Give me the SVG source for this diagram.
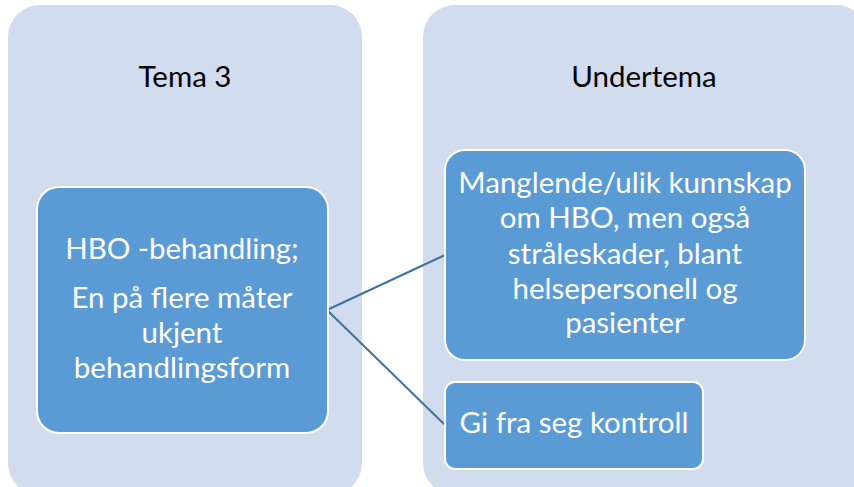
<svg xmlns="http://www.w3.org/2000/svg" width="854" height="487" viewBox="0 0 854 487">
  <style>
    .panel { fill: #d1ddee; }
    .node { fill: #5b9bd5; stroke: #ffffff; stroke-width: 2; }
    .head { font-family: Lato, "Liberation Sans", sans-serif; font-size: 29.5px; fill: #000000; text-anchor: middle; }
    .label { font-family: Lato, "Liberation Sans", sans-serif; font-size: 29.5px; fill: #ffffff; text-anchor: middle; }
    .link { stroke: #41719c; stroke-width: 2; fill: none; }
  </style>
  <rect width="854" height="487" fill="#ffffff"/>

  <!-- column backgrounds -->
  <g id="panel-tema">
    <rect class="panel" x="8" y="5" width="354" height="490" rx="32"/>
    <text class="head" x="185" y="87">Tema 3</text>
  </g>
  <g id="panel-undertema">
    <rect class="panel" x="423" y="5" width="445" height="490" rx="32"/>
    <text class="head" x="644" y="87">Undertema</text>
  </g>

  <!-- connectors -->
  <g id="connectors">
    <line class="link" x1="327" y1="310" x2="445" y2="255"/>
    <line class="link" x1="327" y1="310" x2="445" y2="425"/>
  </g>

  <g id="node-hbo">
    <rect class="node" x="37" y="187" width="291" height="246" rx="22"/>
    <text class="label" x="182" y="259">HBO -behandling;</text>
    <text class="label" x="182" y="308">En på flere måter</text>
    <text class="label" x="182" y="343">ukjent</text>
    <text class="label" x="182" y="378">behandlingsform</text>
  </g>

  <g id="node-kunnskap">
    <rect class="node" x="445" y="150" width="360" height="210" rx="20"/>
    <text class="label" x="625" y="193">Manglende/ulik kunnskap</text>
    <text class="label" x="625" y="228">om HBO, men også</text>
    <text class="label" x="625" y="264">stråleskader, blant</text>
    <text class="label" x="625" y="299">helsepersonell og</text>
    <text class="label" x="625" y="333">pasienter</text>
  </g>

  <g id="node-kontroll">
    <rect class="node" x="445" y="382" width="258" height="87" rx="10"/>
    <text class="label" x="574" y="433">Gi fra seg kontroll</text>
  </g>
</svg>
